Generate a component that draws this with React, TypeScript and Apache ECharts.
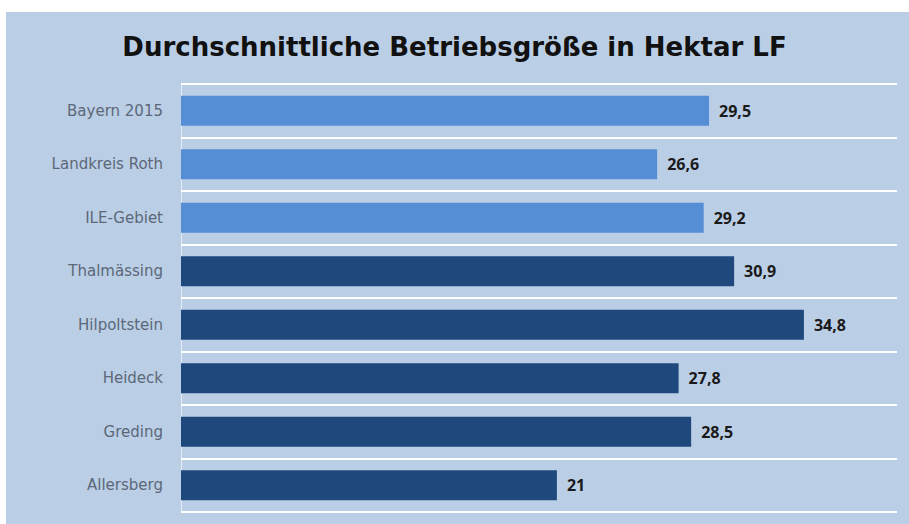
import React, { useEffect, useRef } from "react";
import * as echarts from "echarts";

const categories = [
  "Bayern 2015",
  "Landkreis Roth",
  "ILE-Gebiet",
  "Thalmässing",
  "Hilpoltstein",
  "Heideck",
  "Greding",
  "Allersberg",
];
const values = [29.5, 26.6, 29.2, 30.9, 34.8, 27.8, 28.5, 21];
const groups = ["region", "region", "region", "gemeinde", "gemeinde", "gemeinde", "gemeinde", "gemeinde"];
const titleText = "Durchschnittliche Betriebsgröße in Hektar LF";

const groupColors: Record<string, string> = {
  region: "#558ed5",
  gemeinde: "#1f497d",
};

export default function App() {
  const ref = useRef<HTMLDivElement>(null);
  useEffect(() => {
    if (!ref.current) return;
    const chart = echarts.init(ref.current, null, { renderer: "svg" });
    chart.setOption({
      animation: false,
      backgroundColor: "#ffffff",
      graphic: [
        {
          type: "rect",
          z: -10,
          silent: true,
          shape: { x: 6, y: 12, width: 903, height: 512 },
          style: { fill: "#bacee6" },
        },
      ],
      title: {
        text: titleText,
        left: "center",
        top: 29,
        textStyle: {
          fontFamily: "DejaVu Sans",
          fontWeight: "bold",
          fontSize: 26,
          color: "#111111",
        },
      },
      grid: { left: 181, right: 12, top: 84, bottom: 12, containLabel: false },
      xAxis: {
        type: "value",
        min: 0,
        max: 40,
        show: false,
        splitLine: { show: false },
      },
      yAxis: {
        type: "category",
        data: categories,
        inverse: true,
        axisTick: { show: false },
        axisLine: { show: true, lineStyle: { color: "rgba(255,255,255,0.6)", width: 1 } },
        splitLine: { show: true, lineStyle: { color: "#ffffff", width: 2 } },
        axisLabel: {
          margin: 18,
          fontFamily: "DejaVu Sans",
          fontSize: 15,
          color: "#5c6878",
        },
      },
      series: [
        {
          type: "bar",
          barWidth: "56%",
          data: values.map((v, i) => ({
            value: v,
            itemStyle: { color: groupColors[groups[i]] },
          })),
          label: {
            show: true,
            position: "right",
            distance: 10,
            fontFamily: "Open Sans",
            fontWeight: "bold",
            fontSize: 16,
            color: "#1a1a1a",
            formatter: (p: any) => String(p.value).replace(".", ","),
          },
        },
      ],
    });
    return () => chart.dispose();
  }, []);
  return (
    <div
      ref={ref}
      style={{ position: "fixed", left: 0, top: 0, width: 909, height: 524 }}
    />
  );
}
